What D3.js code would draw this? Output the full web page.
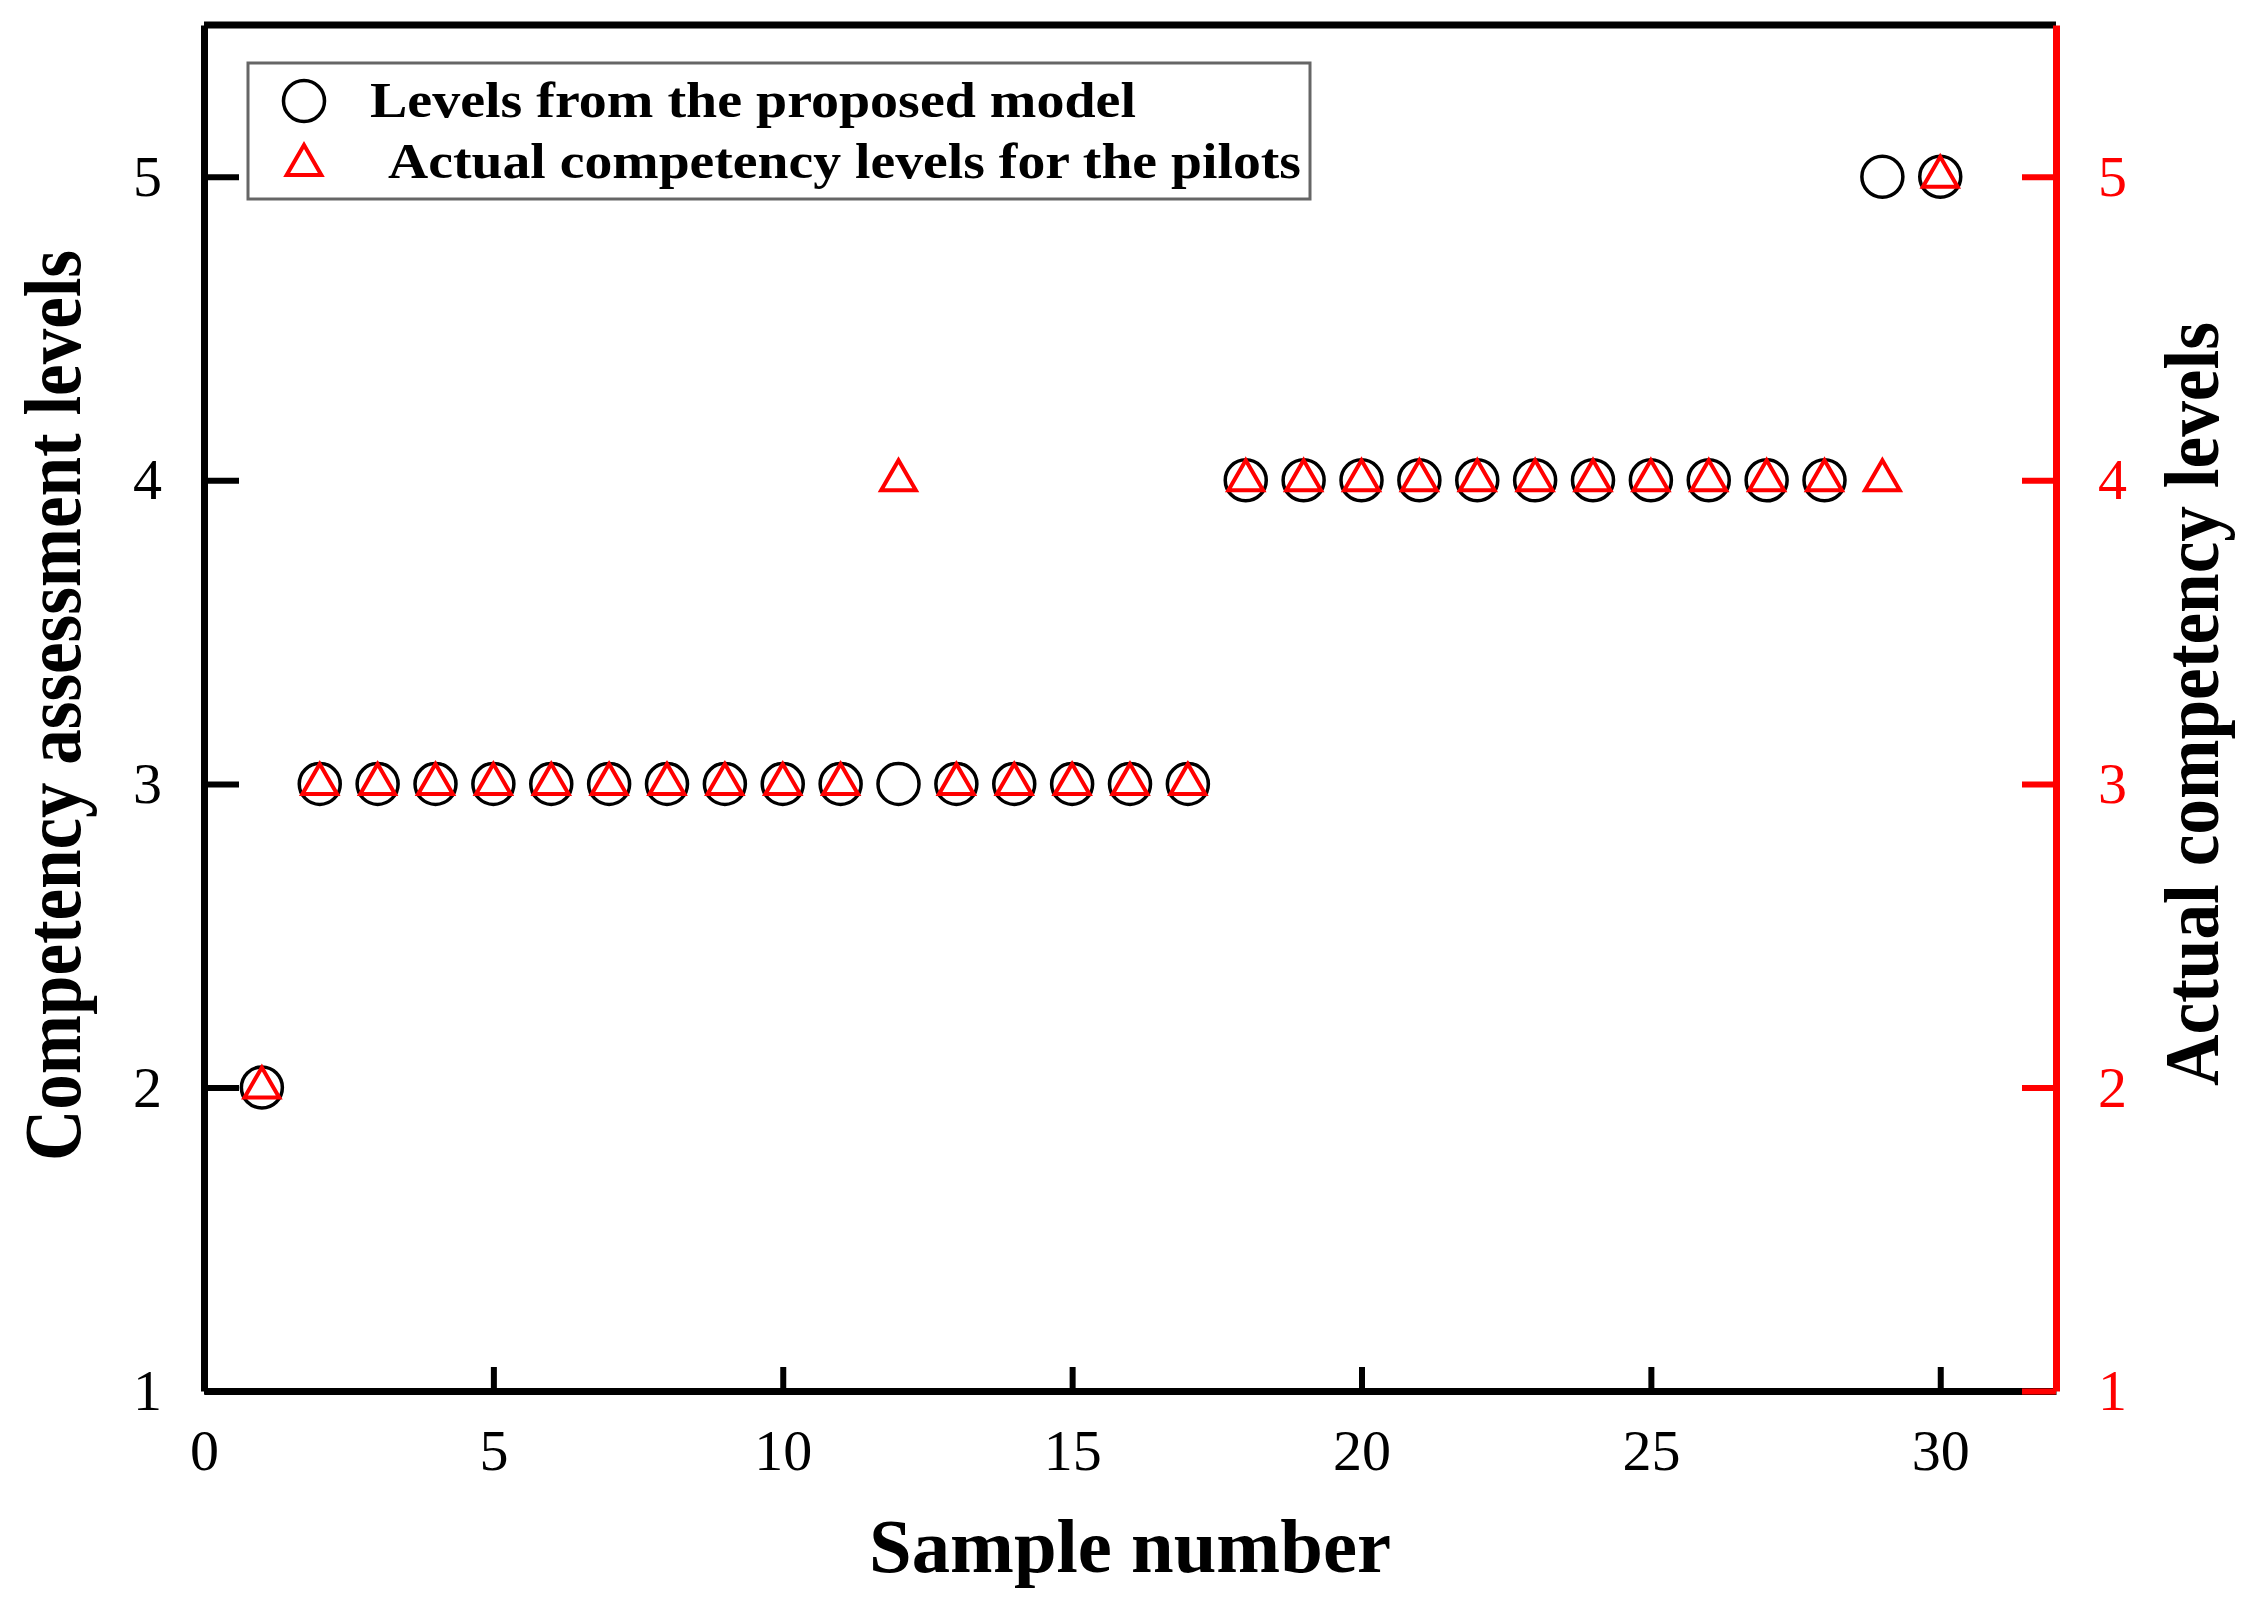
<!DOCTYPE html>
<html>
<head>
<meta charset="utf-8">
<script src="https://cdn.jsdelivr.net/npm/d3@7"></script>
<style>
  body { margin: 0; background: #fff; }
  svg { display: block; }
</style>
</head>
<body>
<svg id="chart"></svg>
<script>
// sample numbers 1..30
const samples = [1,2,3,4,5,6,7,8,9,10,11,12,13,14,15,16,17,18,19,20,21,22,23,24,25,26,27,28,29,30];
// levels from the proposed model (circles)
const modelLevels = [2,3,3,3,3,3,3,3,3,3,3,3,3,3,3,3,3,4,4,4,4,4,4,4,4,4,4,4,5,5];
// actual competency levels (triangles)
const actualLevels = [2,3,3,3,3,3,3,3,3,3,3,4,3,3,3,3,3,4,4,4,4,4,4,4,4,4,4,4,4,5];
const xTicks = [0,5,10,15,20,25,30];
const yTicks = [1,2,3,4,5];

const width = 2265, height = 1615;
const plotLeft = 204, plotRight = 2056, plotTop = 25, plotBottom = 1391;
const serif = "'Liberation Serif', 'Times New Roman', serif";
const fmt = d3.format("d");

const svg = d3.select("#chart")
  .attr("width", width)
  .attr("height", height)
  .style("background", "#fff");

const x = d3.scaleLinear().domain([0, 32]).range([plotLeft, plotRight]);
const yL = d3.scaleLinear().domain([1, 5.5]).range([plotBottom, plotTop]);
const yR = d3.scaleLinear().domain([1, 5.5]).range([plotBottom, plotTop]);

// top frame line
svg.append("line")
  .attr("x1", plotLeft).attr("x2", plotRight)
  .attr("y1", plotTop).attr("y2", plotTop)
  .attr("stroke", "#000").attr("stroke-width", 7);

// bottom axis
const gx = svg.append("g")
  .attr("transform", `translate(0,${plotBottom})`)
  .call(d3.axisBottom(x).tickValues(xTicks).tickFormat(fmt).tickSizeInner(-24).tickSizeOuter(0).tickPadding(38));
gx.select(".domain").attr("stroke", "#000").attr("stroke-width", 7);
gx.selectAll(".tick line").attr("stroke", "#000").attr("stroke-width", 6);
gx.selectAll(".tick text").attr("font-family", serif).attr("font-size", 58).attr("fill", "#000");

// left axis
const gl = svg.append("g")
  .attr("transform", `translate(${plotLeft},0)`)
  .call(d3.axisLeft(yL).tickValues(yTicks).tickFormat(fmt).tickSizeInner(-35).tickSizeOuter(0).tickPadding(42));
gl.select(".domain").attr("stroke", "#000").attr("stroke-width", 7);
gl.selectAll(".tick line").attr("stroke", "#000").attr("stroke-width", 6);
gl.selectAll(".tick text").attr("font-family", serif).attr("font-size", 58).attr("fill", "#000");

// right axis (red)
const gr = svg.append("g")
  .attr("transform", `translate(${plotRight},0)`)
  .call(d3.axisRight(yR).tickValues(yTicks).tickFormat(fmt).tickSizeInner(-34).tickSizeOuter(0).tickPadding(42));
gr.select(".domain").attr("stroke", "#ff0000").attr("stroke-width", 7);
gr.selectAll(".tick line").attr("stroke", "#ff0000").attr("stroke-width", 6);
gr.selectAll(".tick text").attr("font-family", serif).attr("font-size", 58).attr("fill", "#ff0000");

// markers
const tri = d3.symbol().type(d3.symbolTriangle).size(520);

svg.append("g").selectAll("circle")
  .data(samples)
  .enter().append("circle")
  .attr("cx", (d) => x(d))
  .attr("cy", (d, i) => yL(modelLevels[i]))
  .attr("r", 20.5)
  .attr("fill", "none")
  .attr("stroke", "#000")
  .attr("stroke-width", 3.5);

svg.append("g").selectAll("path")
  .data(samples)
  .enter().append("path")
  .attr("d", tri)
  .attr("transform", (d, i) => `translate(${x(d)},${yR(actualLevels[i])})`)
  .attr("fill", "none")
  .attr("stroke", "#ff0000")
  .attr("stroke-width", 4);

// legend
const lg = svg.append("g");
lg.append("rect")
  .attr("x", 248).attr("y", 63)
  .attr("width", 1310 - 248).attr("height", 199 - 63)
  .attr("fill", "#fff")
  .attr("stroke", "#666")
  .attr("stroke-width", 3);
lg.append("circle")
  .attr("cx", 304).attr("cy", 101).attr("r", 20.5)
  .attr("fill", "none").attr("stroke", "#000").attr("stroke-width", 3.5);
lg.append("path")
  .attr("d", tri)
  .attr("transform", "translate(304,165)")
  .attr("fill", "none").attr("stroke", "#ff0000").attr("stroke-width", 4);
lg.append("text")
  .attr("x", 370).attr("y", 117)
  .attr("font-family", serif).attr("font-weight", "bold").attr("font-size", 50)
  .attr("textLength", 766).attr("lengthAdjust", "spacingAndGlyphs")
  .text("Levels from the proposed model");
lg.append("text")
  .attr("x", 388).attr("y", 178)
  .attr("font-family", serif).attr("font-weight", "bold").attr("font-size", 50)
  .attr("textLength", 913).attr("lengthAdjust", "spacingAndGlyphs")
  .text("Actual competency levels for the pilots");

// axis titles
svg.append("text")
  .attr("x", 869).attr("y", 1572)
  .attr("font-family", serif).attr("font-weight", "bold").attr("font-size", 76)
  .attr("textLength", 522).attr("lengthAdjust", "spacingAndGlyphs")
  .text("Sample number");

svg.append("text")
  .attr("transform", "translate(80,1161) rotate(-90)")
  .attr("font-family", serif).attr("font-weight", "bold").attr("font-size", 80)
  .attr("textLength", 911).attr("lengthAdjust", "spacingAndGlyphs")
  .text("Competency assessment levels");

svg.append("text")
  .attr("transform", "translate(2218,1086) rotate(-90)")
  .attr("font-family", serif).attr("font-weight", "bold").attr("font-size", 78)
  .attr("textLength", 764).attr("lengthAdjust", "spacingAndGlyphs")
  .text("Actual competency levels");
</script>
</body>
</html>
